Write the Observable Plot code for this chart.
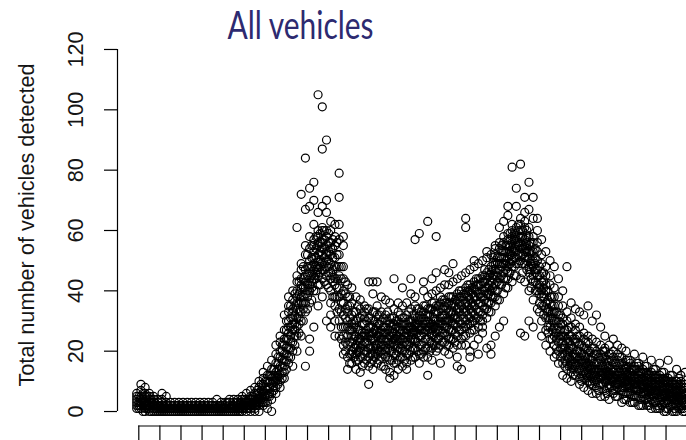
<!DOCTYPE html>
<html>
<head>
<meta charset="utf-8">
<script src="https://cdn.jsdelivr.net/npm/d3@7"></script>
<script src="https://cdn.jsdelivr.net/npm/@observablehq/plot@0.6"></script>
<style>
  html, body { margin: 0; padding: 0; background: #fff; overflow: hidden; }
  #chart svg { display: block; }
</style>
</head>
<body>
<div id="chart"></div>
<script>
const titleText = "All vehicles";
const yAxisTitle = "Total number of vehicles detected";
const yTicks = [0, 20, 40, 60, 80, 100, 120];
const yTickLabels = ["0", "20", "40", "60", "80", "100", "120"];
const hourTicks = [0,1,2,3,4,5,6,7,8,9,10,11,12,13,14,15,16,17,18,19,20,21,22,23,24,25];

// time slots (hours): slot width and the first slot of each observation set
const slotWidthHours = 0.2;
const firstSlotHourA = -0.1;
const firstSlotHourB = 0.0;

// observation set A: vehicles detected in each slot
const slotCountsA = [
  [2,4,6,3,1,5], [3,7,5,1,9,2,4], [2,5,0,3,8,1,6], [1,3,5,2,6,0,4], [0,2,4,1,3,5],
  [1,3,0,2,4], [0,2,6,1,4,3], [1,3,0,5,2], [0,2,1,3,1], [2,0,1,3],
  [1,0,2,3], [0,1,3,2], [2,0,1,3], [1,0,2,3], [0,3,1,2],
  [2,0,1,3], [1,0,3,2], [0,2,1,3], [3,0,2,1], [1,0,2,4],
  [0,2,3,1], [2,0,3,1], [0,2,4,1,3], [1,0,3,2,4], [0,4,1,3,2],
  [1,3,0,2,4,5], [0,2,4,1,3,6], [1,3,5,2,0,7,4], [2,4,6,1,3,8,0], [3,5,8,2,0,6,10,4],
  [4,7,9,3,11,2,6,13], [5,8,12,3,10,1,7,15], [6,11,14,4,9,17,0,12], [8,13,16,6,19,10,22,11], [10,15,18,23,8,12,25,20],
  [13,19,22,27,15,32,17,24,11], [16,21,26,30,33,18,38,24,35,28], [20,27,31,34,23,40,15,37,29,33], [25,31,36,40,28,45,61,20,34,43,38], [30,36,41,44,33,49,72,25,38,47,42],
  [33,39,43,47,36,52,84,67,15,45,55,41], [36,42,46,50,54,40,58,74,68,20,24,48,44], [40,45,49,53,57,44,62,76,70,28,51,55,47], [42,47,52,55,58,45,105,66,50,35,60,48,56], [44,49,54,57,60,47,101,87,68,61,38,52,56],
  [45,50,55,58,42,90,70,66,30,52,48,60,53], [40,46,52,56,36,60,63,32,28,49,54,44], [35,42,48,55,30,58,62,25,44,51,38], [30,38,45,52,25,62,71,79,57,34,41,48], [25,32,40,48,22,58,55,36,28,44,19],
  [22,28,35,42,18,30,38,14,33,25],
  [16,20,23,27,29,32,36,41,25,19], [14,19,22,25,28,33,38,21,30,17], [13,18,21,24,27,31,34,37,23,20], [16,19,23,26,29,33,35,20,25,31],
  [9,15,18,22,25,28,31,43,21,26,34], [14,17,21,24,26,30,33,39,43,19,28], [16,19,22,25,29,32,35,43,27,21], [15,18,20,24,27,30,38,22,33,26], [14,18,21,23,26,28,32,37,20,30],
  [11,13,17,20,25,27,31,36,22,29], [12,16,19,22,26,29,34,44,24,31], [14,17,20,23,25,28,33,21,30,36], [15,18,22,24,27,31,35,41,20,29], [14,16,19,23,26,29,32,36,22,27],
  [17,20,23,26,28,30,34,39,44,24], [18,21,24,27,29,31,35,38,57,23], [16,19,22,25,28,32,34,59,27,30], [18,20,23,26,29,31,35,40,43,33], [12,18,21,24,27,30,32,38,63,28,34],
  [17,21,23,27,29,34,36,39,44,25], [20,22,26,28,30,33,35,40,46,58,24], [16,22,25,29,31,34,36,38,41,27], [20,23,26,30,32,35,37,42,47,28], [19,24,27,30,33,36,38,42,46,22],
  [21,24,27,31,33,36,38,43,49,29],
  [15,18,22,28,31,34,37,39,44,25], [14,22,24,29,32,35,38,40,45,27], [25,28,30,33,36,39,41,46,61,64,22], [18,20,26,31,34,37,40,42,47,29],
  [22,27,30,32,35,38,41,43,48,50], [19,24,28,33,36,39,42,44,49,31], [26,30,32,35,38,40,43,45,50,28], [21,31,34,36,39,41,44,46,51,53], [19,22,33,36,38,40,43,46,48,52],
  [25,35,38,42,45,47,49,52,54,55,40], [28,37,42,44,47,49,51,54,56,61], [30,39,44,46,49,51,53,56,58,63], [41,46,48,51,53,55,57,59,65,68,44], [43,48,50,52,54,56,58,60,62,81],
  [45,49,51,53,55,57,59,61,68,74], [26,44,50,52,54,56,58,60,62,64,82], [25,43,49,51,53,55,57,61,63,66,71], [30,40,46,48,51,53,55,58,61,67,76], [28,37,43,45,48,50,53,56,58,64,71],
  [34,40,42,45,47,50,53,56,60,64], [25,30,35,38,40,43,46,49,52,57], [22,27,31,34,36,40,42,45,48,53], [20,24,28,31,33,36,38,42,45,50], [18,22,25,28,30,33,35,38,41,48],
  [16,20,23,25,28,30,32,35,38,44],
  [12,16,19,23,25,29,31,35,40,21], [11,14,18,20,24,27,30,33,48,16], [10,13,17,21,22,25,28,31,36,15], [12,15,16,19,23,24,27,29,34,18],
  [9,11,14,18,20,22,25,28,33,16], [8,13,15,17,19,21,24,26,32,11], [7,10,12,16,18,20,23,25,35,14], [6,9,13,15,17,18,21,24,30,11], [8,10,12,14,16,19,20,23,32,6],
  [5,9,11,13,15,17,19,22,28,12], [5,7,10,14,16,18,20,21,25,12], [4,8,11,12,15,17,19,22,13,9], [6,7,10,13,14,16,18,20,24,11], [5,8,9,12,15,17,19,22,13,10],
  [3,7,10,11,14,16,18,21,12,8], [4,6,9,12,13,15,17,20,10,14], [3,6,8,11,13,14,16,17,9,12], [3,5,9,10,12,14,15,19,8,11], [2,5,7,10,11,13,15,16,9,12],
  [2,6,8,9,11,13,14,18,10,5], [2,4,7,9,10,12,13,15,8,11], [1,4,6,8,10,11,13,17,9,7], [1,3,6,8,9,11,12,14,10,7], [1,3,5,7,9,10,12,16,8,11],
  [0,3,5,7,8,10,11,13,9,6], [1,3,4,6,8,9,11,17,7,10], [0,2,5,6,8,9,10,12,7,4], [0,2,4,6,7,9,10,14,8,5], [1,2,4,5,7,8,10,12,6,9],
  [0,2,3,5,6,8,9,13,7,4]
];

// observation set B: vehicles detected in each slot
const slotCountsB = [
  [1,3,5,2], [4,2,6,0], [3,1,5,2], [2,0,3,4], [1,2,0],
  [0,1,2], [2,1,0], [1,2,0], [0,2,1], [1,0,2],
  [2,1,0], [0,1,2], [1,2,0], [2,0,1], [1,0,2],
  [0,2,1], [2,1,0], [1,0,2], [0,1,2], [2,0,1],
  [1,2,0], [0,1,3], [2,1,0], [1,3,0], [2,0,1,3],
  [1,3,2,4], [2,4,1,3], [3,5,2,4], [4,6,3,2,7], [5,3,7,4,9],
  [6,8,5,3,10], [8,6,10,12,5], [10,12,8,14,7], [12,14,11,16,9,18], [15,17,13,20,11,22],
  [19,21,17,24,14,27,30], [23,25,21,28,18,31,35], [27,29,25,32,22,35,39], [31,33,29,36,26,39,43], [36,38,34,41,30,44,48],
  [40,42,38,45,34,48,52], [43,45,41,48,37,51,55], [46,48,44,51,40,54,58], [48,50,46,53,42,56,59], [49,51,47,54,43,57,60],
  [48,50,46,53,41,56,59], [45,47,43,51,38,54,57], [41,44,38,48,33,52,56], [36,39,33,44,28,48,24], [31,34,28,39,23,43,20],
  [27,31,23,35,19,38,16], [25,28,21,33,18,24,30], [24,27,20,31,17,35,22], [26,22,29,18,32,25,15], [23,27,20,30,17,25,34],
  [25,21,28,19,31,24,16], [24,27,22,30,18,33,20], [23,26,20,29,17,25,32], [26,22,28,19,31,24,15], [24,27,21,30,18,23,33],
  [23,26,20,28,17,31,25], [25,22,28,19,30,24,16], [24,27,21,29,18,32,26], [26,23,29,20,31,25,17], [25,28,22,30,19,33,27],
  [27,24,30,21,32,26,18], [26,29,23,31,20,34,28], [28,25,31,22,33,27,19], [27,30,24,32,21,35,29], [29,26,32,23,34,28,20],
  [28,31,25,33,22,36,30], [30,27,33,24,35,29,21], [29,32,26,34,23,37,31], [31,28,34,25,36,30,22], [30,33,27,35,24,38,32],
  [32,29,35,26,37,31,23], [33,36,30,38,27,40,34], [34,31,37,28,39,33,25], [35,38,32,40,29,42,36], [36,33,39,30,41,35,27],
  [37,40,34,42,31,44,38], [39,36,42,33,44,38,30], [40,43,37,45,34,47,41], [42,39,45,36,47,41,33], [44,47,41,49,38,51,45],
  [46,43,49,40,51,45,37], [48,51,45,53,42,55,49], [50,47,53,44,55,49,41], [52,55,49,57,46,59,53], [54,51,57,48,59,53,45],
  [55,58,52,60,49,62,56], [55,52,58,49,60,54,46], [53,56,50,58,47,60,54], [50,47,53,44,56,49,41], [46,49,43,51,40,54,47],
  [42,39,45,36,48,41,33], [38,41,35,43,32,46,39], [34,31,37,28,40,33,26], [30,33,27,35,24,38,31], [27,24,30,21,33,26,19],
  [24,27,21,29,18,32,25], [22,19,25,17,27,21,15], [20,23,18,25,15,28,21], [19,16,21,14,24,18,12], [18,20,15,23,13,25,17],
  [17,14,19,12,22,16,10], [16,18,13,21,11,23,15], [15,12,17,10,20,14,9], [14,16,12,19,10,21,13], [14,11,16,9,18,13,7],
  [13,15,11,18,9,20,12], [13,10,15,8,17,12,6], [12,14,10,17,8,19,11], [12,9,14,7,16,11,5], [11,13,9,16,7,18,10],
  [11,8,13,6,15,10,4], [10,12,8,15,6,17,9], [10,7,12,5,14,9,3], [9,11,7,14,5,16,8], [9,6,11,4,13,8,2],
  [8,10,6,13,4,15,7], [8,5,10,3,12,7,2], [7,9,5,12,3,14,6], [7,4,9,2,11,6,1], [6,8,4,11,2,13,5],
  [6,3,8,1,10,5,0], [6,8,4,10,2,12,5], [5,3,7,1,9,4,0], [5,7,3,9,1,11,4], [4,2,6,0,8,3,1]
];

const toPoints = (counts, firstHour) => counts.flatMap((vals, i) =>
  vals.map(v => ({hour: firstHour + i * slotWidthHours, vehicles: v}))
);
const points = toPoints(slotCountsA, firstSlotHourA).concat(toPoints(slotCountsB, firstSlotHourB));

const xDomain = [-1.01, 25.97];
const yDomain = [-4.8, 124.8];
const axisFont = "'Liberation Sans', Arial, Helvetica, sans-serif";

const chart = Plot.plot({
  width: 686,
  height: 440,
  marginLeft: 117,
  marginRight: 0,
  marginTop: 34.5,
  marginBottom: 14.5,
  x: {domain: xDomain},
  y: {domain: yDomain},
  style: {background: "white", fontFamily: axisFont, color: "black"},
  marks: [
    Plot.dot(points, {x: "hour", y: "vehicles", r: 4, stroke: "black", strokeWidth: 1.2, fill: "none"}),
    Plot.ruleX([xDomain[0]], {y1: yTicks[0], y2: yTicks[yTicks.length - 1], stroke: "black", strokeWidth: 1.2}),
    Plot.axisY({ticks: yTicks, tickSize: 13, tickFormat: () => "", label: null, stroke: "black", strokeWidth: 1.2}),
    Plot.text(yTicks, {y: d => d, text: (d, i) => yTickLabels[i], frameAnchor: "left", dx: -35, rotate: -90,
      textAnchor: "middle", lineAnchor: "bottom", fontSize: 21.7, fill: "#151515"}),
    Plot.text([yAxisTitle], {text: d => d, frameAnchor: "left", dx: -84, dy: -5.5, rotate: -90,
      textAnchor: "middle", lineAnchor: "bottom", fontSize: 21.7, fill: "#151515"}),
    Plot.ruleY([yDomain[0]], {x1: hourTicks[0], x2: xDomain[1], stroke: "black", strokeWidth: 1.2}),
    Plot.axisX({ticks: hourTicks, tickSize: 16, tickFormat: () => "", label: null, anchor: "bottom", stroke: "black", strokeWidth: 1.2}),
    Plot.text([titleText], {text: d => d, frameAnchor: "top-left", dx: 183, dy: 3.8, textAnchor: "middle",
      lineAnchor: "bottom", fontSize: 38, fontFamily: "Lato, 'Open Sans', sans-serif", fill: "#2d2a70"})
  ]
});

document.getElementById("chart").appendChild(chart);

const titleNode = Array.from(chart.querySelectorAll("text")).find(t => t.textContent === titleText);
if (titleNode) {
  titleNode.setAttribute("textLength", "146");
  titleNode.setAttribute("lengthAdjust", "spacingAndGlyphs");
}
</script>
</body>
</html>
